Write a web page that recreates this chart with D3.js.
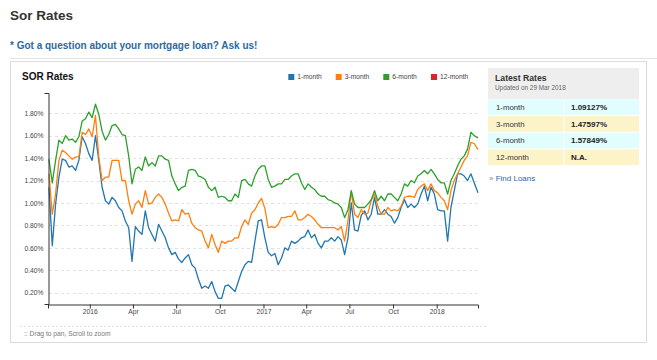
<!DOCTYPE html>
<html><head><meta charset="utf-8">
<script src="https://cdn.jsdelivr.net/npm/d3@7"></script>
<style>
body{margin:0;background:#fff;}
svg text{font-family:"Liberation Sans",Arial,Helvetica,sans-serif;}
</style></head><body>
<svg id="c" width="657" height="360"></svg>
<script>
// ---------- data ----------
const seriesNames = ["1-month", "3-month", "6-month", "12-month"];
const seriesColors = ["#1f77b4", "#ff7f0e", "#2ca02c", "#d62728"];
const firstSampleDate = "2015-10-07"; // weekly samples from this date
const sampleStepDays = 7;
const lastSampleDate = "2018-03-29";
const axisStartDate = "2015-10-05";

const rate1m = [1.14,0.62,0.99,1.23,1.39,1.38,1.32,1.33,1.29,1.38,1.59,1.53,1.44,1.38,1.60,1.38,1.14,1.02,0.99,1.05,1.02,0.96,0.93,0.84,0.78,0.48,0.79,0.75,0.72,0.93,0.78,0.72,
0.66,0.81,0.75,0.69,0.60,0.54,0.56,0.50,0.47,0.51,0.54,0.45,0.42,0.32,0.24,0.26,0.24,0.30,0.21,0.15,0.15,0.26,0.27,0.24,0.21,0.30,0.39,0.45,0.48,0.47,0.66,0.84,
0.85,0.69,0.56,0.53,0.55,0.45,0.51,0.60,0.58,0.66,0.64,0.66,0.69,0.70,0.76,0.69,0.72,0.64,0.60,0.66,0.66,0.69,0.66,0.70,0.67,0.54,0.69,1.00,0.76,0.75,0.89,0.93,0.85,
0.90,1.05,0.90,0.90,0.94,0.90,0.88,0.82,0.87,0.96,1.03,0.96,0.99,0.96,0.99,1.08,1.15,1.02,1.14,1.08,0.94,0.93,0.93,0.66,0.96,1.11,1.26,1.26,1.24,1.20,1.26,1.18,
1.09127];
const rate3m = [1.26,0.90,1.08,1.38,1.47,1.45,1.42,1.39,1.41,1.41,1.63,1.61,1.66,1.59,1.78,1.41,1.20,1.23,1.23,1.38,1.38,1.38,1.20,1.20,1.02,0.90,0.99,1.02,0.96,1.11,0.99,1.00,
1.05,1.08,1.05,0.99,0.91,0.84,0.85,0.84,0.94,0.90,0.91,0.82,0.78,0.76,0.75,0.66,0.60,0.72,0.63,0.56,0.66,0.64,0.66,0.66,0.69,0.69,0.79,0.85,0.81,0.91,0.94,1.00,
1.04,0.95,0.78,0.79,0.78,0.81,0.87,0.87,0.88,0.88,0.93,0.85,0.85,0.87,0.90,0.88,0.85,0.81,0.78,0.78,0.78,0.78,0.78,0.76,0.79,0.66,0.84,1.10,0.90,0.87,0.94,0.90,0.91,
1.02,1.08,0.97,0.90,0.90,0.96,0.93,0.94,0.93,0.97,1.05,1.06,1.06,1.05,1.12,1.15,1.17,1.11,1.17,1.11,1.09,1.05,1.02,0.94,1.11,1.20,1.26,1.32,1.38,1.42,1.54,1.53,
1.47597];
const rate6m = [1.39,1.18,1.38,1.56,1.53,1.60,1.56,1.57,1.54,1.59,1.73,1.75,1.81,1.76,1.88,1.79,1.64,1.56,1.61,1.69,1.70,1.66,1.61,1.60,1.42,1.17,1.30,1.32,1.29,1.41,1.33,1.36,
1.33,1.42,1.42,1.39,1.38,1.24,1.17,1.11,1.14,1.15,1.29,1.30,1.29,1.24,1.23,1.21,1.14,1.11,1.14,1.05,1.06,1.05,1.02,1.02,1.08,1.05,1.20,1.21,1.17,1.15,1.24,1.30,
1.33,1.33,1.21,1.14,1.15,1.17,1.17,1.21,1.21,1.24,1.26,1.26,1.18,1.12,1.17,1.14,1.12,1.08,1.06,1.06,1.03,1.02,1.00,0.99,0.96,0.87,0.94,1.11,0.99,0.96,0.96,0.96,0.99,
1.03,1.11,1.02,1.06,1.02,1.08,1.08,1.05,1.02,1.08,1.17,1.15,1.20,1.18,1.24,1.26,1.29,1.26,1.30,1.26,1.21,1.18,1.18,1.08,1.20,1.26,1.33,1.39,1.42,1.48,1.63,1.60,
1.57849];

const yTickValues = [0.2, 0.4, 0.6, 0.8, 1.0, 1.2, 1.4, 1.6, 1.8];
const xTickDates = ["2016-01-01","2016-04-01","2016-07-01","2016-10-01","2017-01-01","2017-04-01","2017-07-01","2017-10-01","2018-01-01"];
const xTickLabels = ["2016","Apr","Jul","Oct","2017","Apr","Jul","Oct","2018"];

const latestLabels = ["1-month", "3-month", "6-month", "12-month"];
const latestValues = ["1.09127%", "1.47597%", "1.57849%", "N.A."];
const latestUpdated = "Updated on 29 Mar 2018";

// ---------- build ----------
const parse = d3.utcParse("%Y-%m-%d");
const n = rate1m.length;
const dates = d3.range(n).map(i => i < n - 1 ? d3.utcDay.offset(parse(firstSampleDate), i * sampleStepDays) : parse(lastSampleDate));
const seriesData = [rate1m, rate3m, rate6m];

const svg = d3.select("#c");
const FONT = "'Liberation Sans', Arial, sans-serif";

// page header
svg.append("text").attr("x", 10).attr("y", 20).attr("font-size", 13.5).attr("font-weight", "bold").attr("fill", "#333").text("Sor Rates");
svg.append("text").attr("x", 10).attr("y", 49).attr("font-size", 10).attr("font-weight", "bold").attr("fill", "#2c6aa0").text("* Got a question about your mortgage loan? Ask us!");
svg.append("line").attr("x1", 10).attr("x2", 657).attr("y1", 58.5).attr("y2", 58.5).attr("stroke", "#e3e3e3");

// outer panel
svg.append("rect").attr("x", 10.5).attr("y", 61.5).attr("width", 636).attr("height", 281).attr("fill", "none").attr("stroke", "#dcdcdc");

// chart title
svg.append("text").attr("x", 22).attr("y", 80).attr("font-size", 10).attr("font-weight", "bold").attr("fill", "#111").text("SOR Rates");

// scales
const x = d3.scaleUtc().domain([parse(axisStartDate), parse(lastSampleDate)]).range([48, 478]);
const y = d3.scaleLinear().domain([0.1, 1.98]).range([304, 93]);

// grid
const g = svg.append("g");
g.selectAll("line.grid").data(yTickValues).join("line")
  .attr("x1", 49).attr("x2", 478)
  .attr("y1", d => Math.round(y(d)) + 0.5).attr("y2", d => Math.round(y(d)) + 0.5)
  .attr("stroke", "#e2e2e2").attr("stroke-dasharray", "3,3");

// lines
const line = d3.line().x((d, i) => x(dates[i])).y(d => y(d));
seriesData.forEach((s, k) => {
  g.append("path").datum(s).attr("d", line).attr("fill", "none")
    .attr("stroke", seriesColors[k]).attr("stroke-width", 1.3).attr("stroke-linejoin", "round");
});

// axes
const yAxis = d3.axisLeft(y).tickValues(yTickValues).tickSizeInner(0).tickSizeOuter(4).tickPadding(5)
  .tickFormat(d => d.toFixed(2) + "%");
const ya = svg.append("g").attr("transform", "translate(48.5,0)").call(yAxis);
ya.selectAll("text").attr("font-size", 6.7).attr("fill", "#444").attr("font-family", FONT);
ya.select(".domain").attr("stroke", "#333");

const xAxis = d3.axisBottom(x).tickValues(xTickDates.map(parse)).tickSizeInner(4).tickSizeOuter(4).tickPadding(1)
  .tickFormat((d, i) => xTickLabels[i]);
const xa = svg.append("g").attr("transform", "translate(0,304.5)").call(xAxis);
xa.selectAll("text").attr("font-size", 6.7).attr("fill", "#444").attr("font-family", FONT);
xa.select(".domain").attr("stroke", "#333");
xa.selectAll(".tick line").attr("stroke", "#333");

// legend
const legendX = [288.3, 335.7, 383.3, 431];
const lg = svg.append("g");
seriesNames.forEach((name, k) => {
  lg.append("rect").attr("x", legendX[k]).attr("y", 74).attr("width", 6).attr("height", 6).attr("fill", seriesColors[k]);
  lg.append("text").attr("x", legendX[k] + 9).attr("y", 79.3).attr("font-size", 6.7).attr("fill", "#444").text(name);
});

// bottom hint
svg.append("line").attr("x1", 20).attr("x2", 486).attr("y1", 326.5).attr("y2", 326.5).attr("stroke", "#e0e0e0").attr("stroke-dasharray", "2,2");
svg.append("text").attr("x", 24).attr("y", 336).attr("font-size", 6.7).attr("fill", "#777").text(":: Drag to pan, Scroll to zoom");

// latest rates panel
const px = 488, pw = 151, colX = 564;
svg.append("rect").attr("x", px).attr("y", 68).attr("width", pw).attr("height", 31).attr("fill", "#eeeeee");
svg.append("text").attr("x", 495).attr("y", 80.5).attr("font-size", 8.7).attr("font-weight", "bold").attr("fill", "#333").text("Latest Rates");
svg.append("text").attr("x", 495).attr("y", 90).attr("font-size", 6.4).attr("fill", "#666").text(latestUpdated);
const rowH = 16.7, row0 = 99.3;
const rowColors = ["#e1fdfd", "#fdf3c9"];
latestLabels.forEach((lab, i) => {
  const ry = row0 + i * rowH;
  svg.append("rect").attr("x", px).attr("y", ry).attr("width", colX - px - 0.5).attr("height", rowH - 1).attr("fill", rowColors[i % 2]);
  svg.append("rect").attr("x", colX + 0.5).attr("y", ry).attr("width", px + pw - colX - 0.5).attr("height", rowH - 1).attr("fill", rowColors[i % 2]);
  svg.append("text").attr("x", 496).attr("y", ry + 10.5).attr("font-size", 7.8).attr("fill", "#333").text(lab);
  svg.append("text").attr("x", 571).attr("y", ry + 10.5).attr("font-size", 8).attr("font-weight", "bold").attr("fill", "#222").text(latestValues[i]);
});
const fl = svg.append("text").attr("x", 489).attr("y", 181).attr("font-size", 8);
fl.append("tspan").attr("fill", "#888").text("» ");
fl.append("tspan").attr("fill", "#2c6aa0").text("Find Loans");
</script>
</body></html>
